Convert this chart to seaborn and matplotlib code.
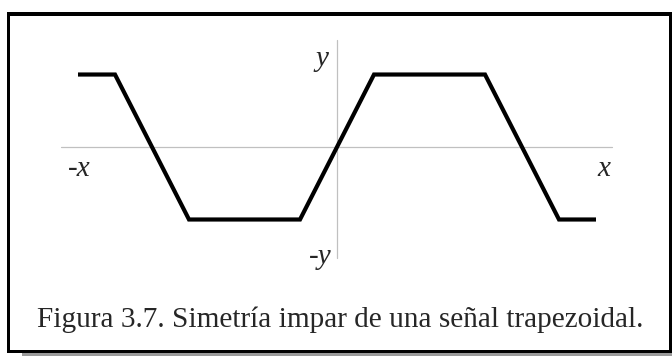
import matplotlib
matplotlib.use("Agg")
import matplotlib.pyplot as plt
import seaborn as sns
import pandas as pd
from matplotlib.patches import Rectangle

# Data: trapezoidal signal vertices
signal_x = [-7, -6, -4, -1, 1, 4, 6, 7]
signal_y = [1, 1, -1, -1, 1, 1, -1, -1]
axis_labels = ["y", "-y", "-x", "x"]
caption = "Figura 3.7. Simetría impar de una señal trapezoidal."

sns.set_theme(style="white")
plt.rcParams['font.family'] = ['Liberation Serif', 'DejaVu Serif']

fig = plt.figure(figsize=(6.72, 3.56), dpi=100)
ax = fig.add_axes([0, 0, 1, 1])
ax.set_xlim(-9.108, 9.054)
ax.set_ylim(-2.883, 2.028)
ax.axis("off")

# coordinate axes
ax.plot([-7.45, 7.43], [0, 0], color="#c0c0c0", lw=0.9, zorder=1)
ax.plot([0, 0], [-1.53, 1.48], color="#c0c0c0", lw=0.9, zorder=1)

df = pd.DataFrame({"x": signal_x, "y": signal_y})
sns.lineplot(data=df, x="x", y="y", sort=False, color="black", lw=3.0,
             ax=ax, zorder=3)
ax.lines[-1].set_solid_joinstyle("miter")
ax.lines[-1].set_solid_capstyle("butt")

ax.text(-0.42, 1.21, axis_labels[0], style="italic", fontsize=21, ha="center", va="center")
ax.text(-0.45, -1.52, axis_labels[1], style="italic", fontsize=21, ha="center", va="center")
ax.text(-6.98, -0.30, axis_labels[2], style="italic", fontsize=21, ha="center", va="center")
ax.text(7.22, -0.30, axis_labels[3], style="italic", fontsize=21, ha="center", va="center")

fig.text(340 / 672, 1 - 320 / 356, caption, fontsize=21.1, ha="center", va="center")

# frame around the figure
W, H = 672, 356
def rect(x0, y0, x1, y1, color):
    fig.patches.append(Rectangle((x0 / W, 1 - y1 / H), (x1 - x0) / W, (y1 - y0) / H,
                                 transform=fig.transFigure, color=color, lw=0))
rect(7, 12, 672, 16, "black")
rect(7, 12, 10, 353, "black")
rect(669, 12, 672, 353, "black")
rect(7, 350, 672, 353, "black")
rect(22, 353, 672, 356, "#9a9a9a")

fig.savefig("out.png", dpi=100)
